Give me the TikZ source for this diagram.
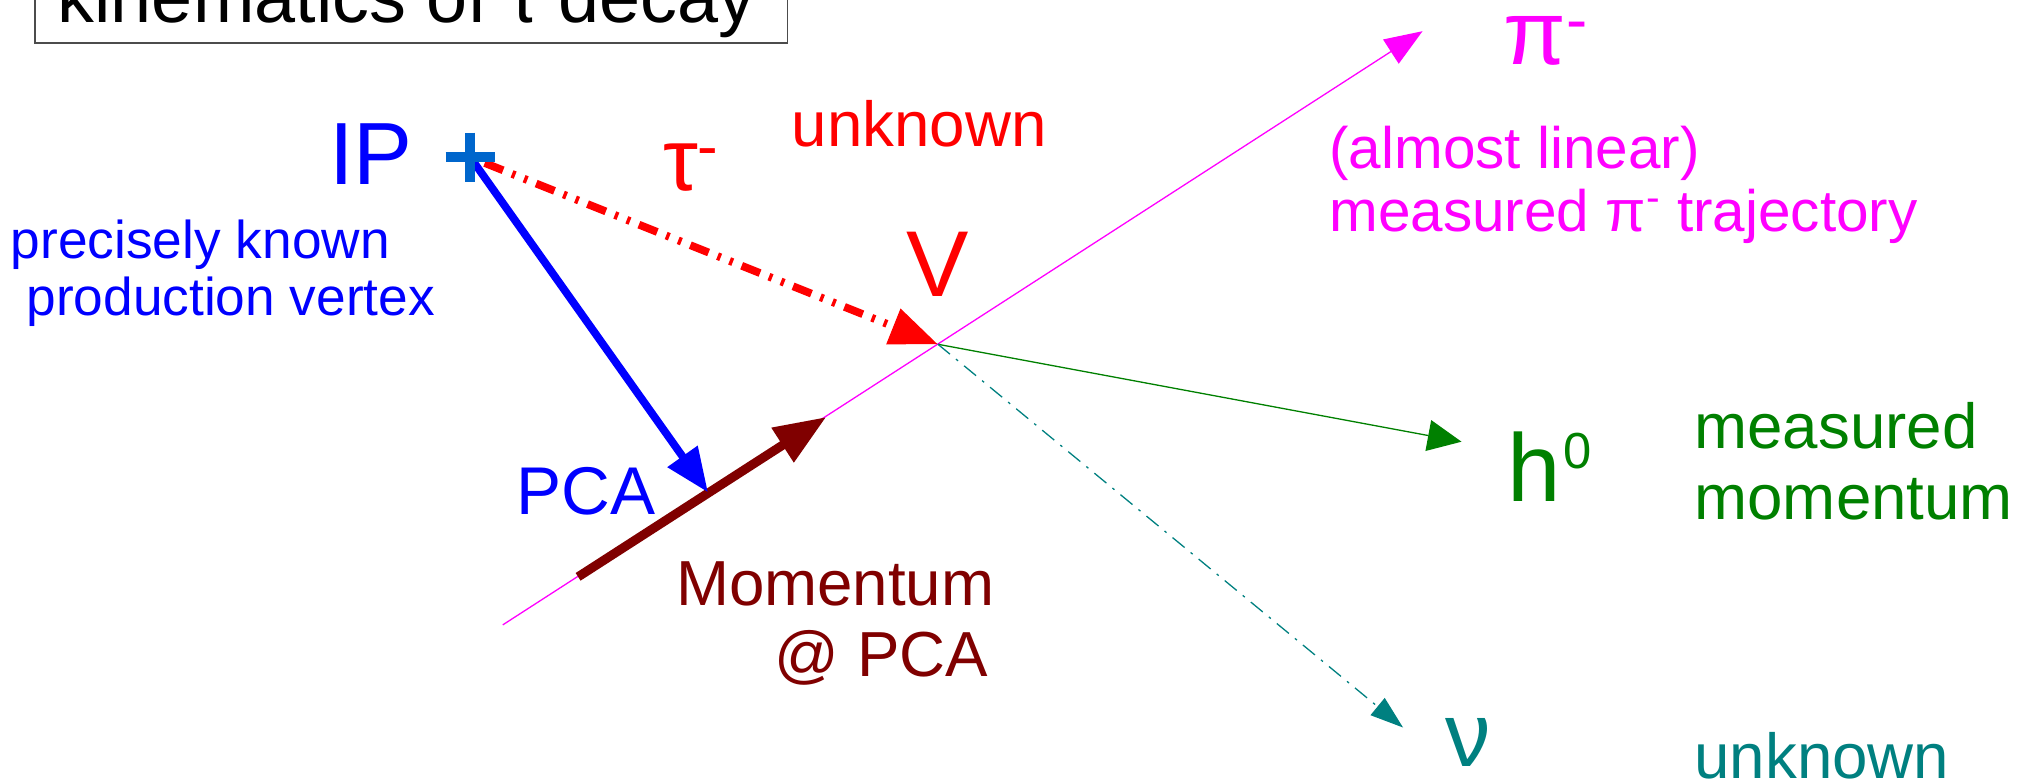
\documentclass[tikz,border=0pt]{standalone}
\usepackage{fontspec}
\setmainfont{Liberation Sans}
\usetikzlibrary{arrows.meta}
\definecolor{ipblue}{HTML}{0066CC}
\definecolor{momred}{HTML}{800000}
\definecolor{hgreen}{HTML}{008000}
\definecolor{nuteal}{HTML}{008080}
\definecolor{pimag}{HTML}{FF00FF}
\newcommand{\fs}[1]{\fontsize{#1}{#1}\selectfont}
\newcommand{\supm}{\textsuperscript{-}}
\begin{document}
\begin{tikzpicture}[x=0.5pt,y=-0.5pt,
  lbl/.style={inner sep=0pt, anchor=base west},
  bigtip/.style={-{Triangle[length=18pt,width=14pt]}},
  thintip/.style={-{Triangle[length=13pt,width=11pt]}}]
\useasboundingbox (0,0) rectangle (1568,602);
\clip (0,0) rectangle (1568,602);
% title
\draw[black!70, line width=0.5pt] (27,-40) rectangle (606,33);
\node[lbl] (title) at (44,17) {\fs{28.4}kinematics of τ decay};
% points
\coordinate (IP) at (362,121);
\coordinate (V) at (722,265);
\coordinate (PCA) at (545,379);
\coordinate (pistart) at (387,481);
\coordinate (piend) at (1095,24);
\coordinate (pcastart) at (445,444);
\coordinate (pcaend) at (636,321);
\coordinate (hend) at (1125,340);
\coordinate (nuend) at (1080,560);
% pion trajectory
\draw[pimag, line width=0.5pt, -{Triangle[length=14.5pt,width=11pt]}] (pistart) -- (piend);
% momentum at PCA
\draw[momred, line width=3.5pt, -{Triangle[length=20pt,width=15pt]}] (pcastart) -- (pcaend);
% h0
\draw[hgreen, line width=0.5pt, -{Triangle[length=13pt,width=12pt]}] (V) -- (hend);
% neutrino
\draw[nuteal, line width=0.5pt, dash pattern=on 6pt off 3pt on 1pt off 3pt, -{Triangle[length=12.7pt,width=8.5pt]}] (V) -- (nuend);
% tau
\draw[red, line width=3pt, dash pattern=on 7.6pt off 3.7pt on 1.3pt off 3.7pt on 1.3pt off 3.7pt, -{Triangle[length=18.5pt,width=14pt]}, shorten <=6pt] (IP) -- (V);
% IP to PCA
\draw[blue, line width=3pt, -{Triangle[length=17pt,width=13.5pt]}, shorten <=2pt] (IP) -- (PCA);
% IP marker
\draw[ipblue, line width=4pt] (343,121) -- (381,121) (362,102) -- (362,140);
% labels
\node[lbl, text=blue] (iplbl) at (253,142) {\fs{34}IP};
\node[lbl, text=blue] (prec1) at (8,199) {\fs{20.5}precisely known};
\node[lbl, text=blue] (prec2) at (20,243) {\fs{20.5}production vertex};
\node[lbl, text=red] (taulbl) at (510,147) {\fs{34}τ\supm};
\node[lbl, text=red] (tauunk) at (609,113) {\fs{24.5}unknown};
\node[lbl, text=red] (vlbl) at (697,228) {\fs{36}V};
\node[lbl, text=blue] (pcalbl) at (397,396) {\fs{26}PCA};
\node[lbl, text=momred] (mom1) at (520,466) {\fs{24.5}Momentum};
\node[lbl, text=momred] (mom2) at (596,521) {\fs{24.5}@ PCA};
\node[lbl, text=pimag] (pilbl) at (1157,50) {\fs{35}π\supm};
\node[lbl, text=pimag] (pi1) at (1023,130) {\fs{22.5}(almost linear)};
\node[lbl, text=pimag] (pi2) at (1023,178) {\fs{22.5}measured π\supm{} trajectory};
\node[lbl, text=hgreen] (hlbl) at (1160,386) {\fs{37}h\hspace{1pt}\raisebox{12.5pt}{\fs{19.5}0}};
\node[lbl, text=hgreen] (h1) at (1304,345) {\fs{24.5}measured};
\node[lbl, text=hgreen] (h2) at (1304,400) {\fs{24.5}momentum};
\node[lbl, text=nuteal] (nulbl) at (1112,590) {\fs{35}ν};
\node[lbl, text=nuteal] (nuunk) at (1304,599) {\fs{24.5}unknown};
\end{tikzpicture}
\end{document}
